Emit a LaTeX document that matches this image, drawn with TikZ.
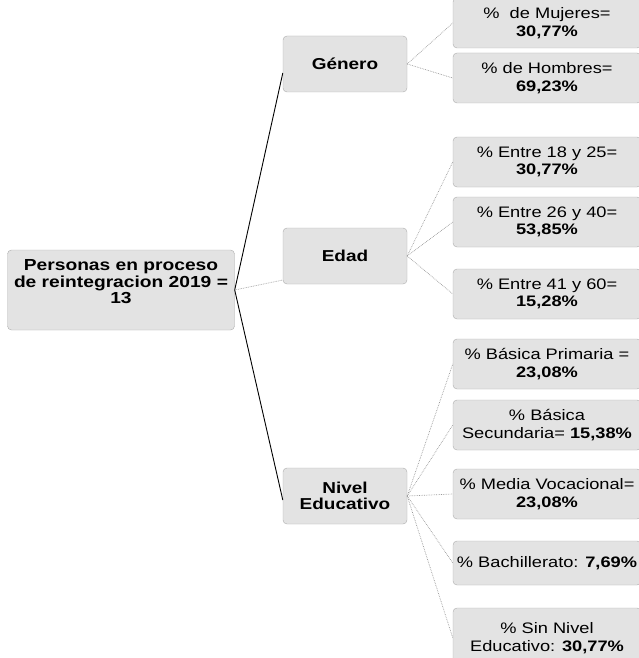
\documentclass[tikz,border=0pt]{standalone}
\usepackage{fontspec}
\setmainfont[FakeStretch=1.2]{Liberation Sans}
\usetikzlibrary{positioning}

\begin{document}
\begin{tikzpicture}[
    x=1pt, y=-1pt,
    box/.style={draw=gray!65, rounded corners=4pt, fill=gray!22, align=center, inner sep=2pt},
    rootbox/.style={box, minimum width=227pt, minimum height=80pt, font=\fontsize{16}{16.5}\selectfont\bfseries},
    catbox/.style={box, minimum width=124pt, minimum height=56pt, font=\fontsize{15.8}{16.5}\selectfont\bfseries},
    leafbox/.style={box, minimum width=188pt, minimum height=50pt, font=\fontsize{15.2}{17.5}\selectfont},
    solidlink/.style={draw=black, line width=0.9pt},
    dotlink/.style={draw=gray!80, densely dotted, line width=0.7pt}
]
    \useasboundingbox (0,0) rectangle (639,658);

    % Root
    \node[rootbox] (root) at (121,290) {Personas en proceso\\de reintegracion 2019 =\\13\\\mbox{}};

    % Middle Column (categories)
    \node[catbox] (gen) at (345,64) {G\'enero};
    \node[catbox] (edad) at (345,256) {Edad};
    \node[catbox] (nivel) at (345,496) {Nivel\\Educativo};

    % Right Column (percentages)
    \node[leafbox] (muj) at (547,23) {\%\ \ de Mujeres=\\\textbf{30,77\%}};
    \node[leafbox] (hom) at (547,78) {\% de Hombres=\\\textbf{69,23\%}};
    \node[leafbox] (e1) at (547,162) {\% Entre 18 y 25=\\\textbf{30,77\%}};
    \node[leafbox] (e2) at (547,222) {\% Entre 26 y 40=\\\textbf{53,85\%}};
    \node[leafbox] (e3) at (547,294) {\% Entre 41 y 60=\\\textbf{15,28\%}};
    \node[leafbox] (n1) at (547,364) {\% B\'asica Primaria =\\\textbf{23,08\%}};
    \node[leafbox] (n2) at (547,425) {\% B\'asica\\Secundaria= \textbf{15,38\%}};
    \node[leafbox] (n3) at (547,494) {\% Media Vocacional=\\\textbf{23,08\%}};
    \node[leafbox, minimum height=44pt] (n4) at (547,563) {\% Bachillerato: \textbf{7,69\%}};
    \node[leafbox, minimum height=60pt] (n5) at (547,638) {\% Sin Nivel\\Educativo: \textbf{30,77\%}};

    % Root to categories
    \draw[solidlink] (root.east) -- ([yshift=-9pt]gen.west);
    \draw[dotlink] (root.east) -- ([yshift=-24pt]edad.west);
    \draw[solidlink] (root.east) -- ([yshift=-4pt]nivel.west);

    % Categories to percentages
    \foreach \leaf in {muj, hom}
        \draw[dotlink] (gen.east) -- (\leaf.west);
    \foreach \leaf in {e1, e2, e3}
        \draw[dotlink] (edad.east) -- (\leaf.west);
    \foreach \leaf in {n1, n2, n3, n4, n5}
        \draw[dotlink] (nivel.east) -- (\leaf.west);
\end{tikzpicture}
\end{document}
